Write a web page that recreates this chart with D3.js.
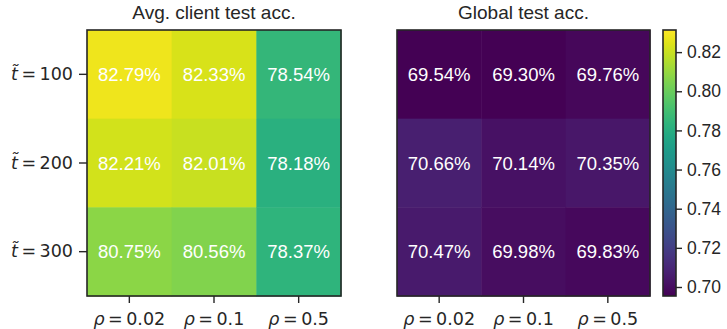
<!DOCTYPE html>
<html><head><meta charset="utf-8">
<script src="https://cdn.jsdelivr.net/npm/d3@7"></script>
<style>body{margin:0;background:#fff}svg{display:block}</style>
</head><body>
<svg id="c" width="727" height="329"></svg>
<script>
const rows = ["100", "200", "300"];
const cols = ["0.02", "0.1", "0.5"];
const panelTitles = ["Avg. client test acc.", "Global test acc."];
const clientAcc = [
  [0.8279, 0.8233, 0.7854],
  [0.8221, 0.8201, 0.7818],
  [0.8075, 0.8056, 0.7837]
];
const globalAcc = [
  [0.6954, 0.6930, 0.6976],
  [0.7066, 0.7014, 0.7035],
  [0.7047, 0.6998, 0.6983]
];
const cbTicks = [0.70, 0.72, 0.74, 0.76, 0.78, 0.80, 0.82];
const cbDomain = [0.6954, 0.8313];

const svg = d3.select("#c");
const ink = "#262626";
const color = d3.scaleSequential(d3.interpolateViridis).domain(cbDomain);
const yTop = 30, yBot = 296;
const y = d3.scaleBand().domain(rows).range([yTop, yBot]);
const panels = [
  {data: clientAcc, x0: 87, x1: 341, title: panelTitles[0], yaxis: true},
  {data: globalAcc, x0: 397, x1: 650, title: panelTitles[1], yaxis: false}
];
panels.forEach(p => {
  const x = d3.scaleBand().domain(cols).range([p.x0, p.x1]);
  const g = svg.append("g");
  const cells = [];
  p.data.forEach((r, i) => r.forEach((v, j) => cells.push({r: rows[i], c: cols[j], v})));
  g.selectAll("rect.cell").data(cells).join("rect")
    .attr("x", d => x(d.c)).attr("y", d => y(d.r))
    .attr("width", x.bandwidth() + 0.5).attr("height", y.bandwidth() + 0.5)
    .attr("fill", d => color(d.v));
  g.selectAll("text.val").data(cells).join("text")
    .attr("x", d => x(d.c) + x.bandwidth() / 2)
    .attr("y", d => y(d.r) + y.bandwidth() / 2)
    .attr("dy", "0.36em").attr("text-anchor", "middle")
    .attr("font-family", "Liberation Sans, Arial, sans-serif").attr("font-size", 18.5)
    .attr("fill", "#fff")
    .text(d => (d.v * 100).toFixed(2) + "%");
  g.append("rect").attr("x", p.x0).attr("y", yTop).attr("width", p.x1 - p.x0).attr("height", yBot - yTop)
    .attr("fill", "none").attr("stroke", ink).attr("stroke-width", 1.6);
  g.append("text").attr("x", (p.x0 + p.x1) / 2).attr("y", 19).attr("text-anchor", "middle")
    .attr("font-family", "Liberation Sans, Arial, sans-serif").attr("font-size", 19).attr("fill", ink)
    .text(p.title);
  const xa = g.append("g").attr("transform", `translate(0,${yBot})`)
    .call(d3.axisBottom(x).tickSize(7).tickSizeOuter(0).tickPadding(4).tickFormat(() => ""));
  xa.select(".domain").remove();
  xa.selectAll("line").attr("stroke", ink).attr("stroke-width", 1.4);
  xa.selectAll(".tick text").each(function(d) {
    const t = d3.select(this).attr("font-family", "DejaVu Sans").attr("font-size", 17.5).attr("fill", ink).attr("dy", "1.05em");
    t.append("tspan").attr("font-style", "italic").text("ρ");
    t.append("tspan").text("\u2009=\u2009" + d);
  });
  if (p.yaxis) {
    const ya = g.append("g").attr("transform", `translate(${p.x0},0)`)
      .call(d3.axisLeft(y).tickSize(8).tickSizeOuter(0).tickPadding(6).tickFormat(() => ""));
    ya.select(".domain").remove();
    ya.selectAll("line").attr("stroke", ink).attr("stroke-width", 1.4);
    ya.selectAll(".tick text").each(function(d) {
      const t = d3.select(this).attr("font-family", "DejaVu Sans").attr("font-size", 17.5).attr("fill", ink);
      t.append("tspan").attr("font-style", "italic").text("t\u0303");
      t.append("tspan").text("\u2009=\u2009" + d);
    });
  }
});
const cbx = 663, cbw = 13;
const cy = d3.scaleLinear().domain(cbDomain).range([yBot, yTop]);
const defs = svg.append("defs");
const grad = defs.append("linearGradient").attr("id", "vg").attr("x1", 0).attr("y1", 1).attr("x2", 0).attr("y2", 0);
d3.range(0, 1.0001, 0.05).forEach(t => grad.append("stop").attr("offset", t).attr("stop-color", d3.interpolateViridis(t)));
svg.append("rect").attr("x", cbx).attr("y", yTop).attr("width", cbw).attr("height", yBot - yTop)
  .attr("fill", "url(#vg)").attr("stroke", ink).attr("stroke-width", 1.6);
const ca = svg.append("g").attr("transform", `translate(${cbx + cbw},0)`)
  .call(d3.axisRight(cy).tickValues(cbTicks).tickSize(6).tickPadding(5).tickFormat(d3.format(".2f")));
ca.select(".domain").remove();
ca.selectAll("line").attr("stroke", ink).attr("stroke-width", 1.4);
ca.selectAll("text").attr("font-family", "Liberation Sans, Arial, sans-serif").attr("font-size", 17.5).attr("fill", ink);
</script>
</body></html>
